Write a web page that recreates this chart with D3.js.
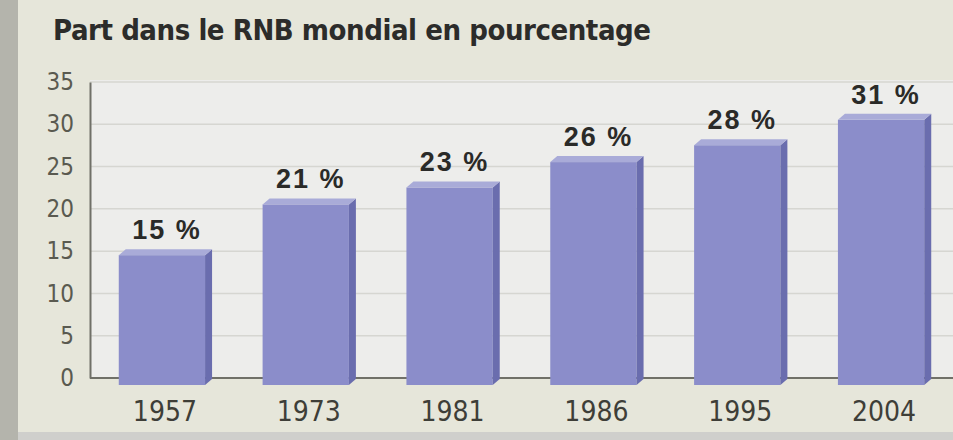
<!DOCTYPE html>
<html>
<head>
  <meta charset="utf-8" />
  <title>Part dans le RNB mondial</title>
  <style>
    body { margin: 0; background: #e4e4da; }
    svg { display: block; }
  </style>
</head>
<body>
  <svg id="chart" width="953" height="440"></svg>
  <script src="https://cdn.jsdelivr.net/npm/d3@7/dist/d3.min.js"></script>
  <script>
    var title = 'Part dans le RNB mondial en pourcentage'
    var years = ['1957', '1973', '1981', '1986', '1995', '2004']
    var shares = [15, 21, 23, 26, 28, 31]
    var yTicks = [0, 5, 10, 15, 20, 25, 30, 35]

    draw()

    function draw() {
      var narrow = '"Liberation Sans Narrow", "DejaVu Sans Condensed", "Liberation Sans", sans-serif'
      var W = 953, H = 440
      var mLeft = 90, mRight = 953, mTop = 80, mBottom = 378
      var depth = 7

      var svg = d3.select('#chart')

      // paper background, a bit of tint like the photo
      svg.append('rect').attr('width', W).attr('height', H).attr('fill', '#e6e6da')
      svg.append('rect').attr('x', 0).attr('y', 0).attr('width', 18).attr('height', H).attr('fill', '#b4b4ac')
      svg.append('rect').attr('x', 18).attr('y', 432).attr('width', W).attr('height', 8).attr('fill', '#cfcfcc')
      svg.append('rect').attr('x', mLeft).attr('y', mTop).attr('width', mRight - mLeft).attr('height', mBottom - mTop)
        .attr('fill', '#ededeb')

      var x = d3.scaleBand().domain(years).range([mLeft, mRight]).paddingInner(0.4).paddingOuter(0.2)
      var y = d3.scaleLinear().domain([0, 35]).range([mBottom, mTop + 2])

      // grid
      svg.append('g').selectAll('line').data(yTicks.slice(1)).enter().append('line')
        .attr('x1', mLeft).attr('x2', mRight)
        .attr('y1', function (d) { return y(d) }).attr('y2', function (d) { return y(d) })
        .attr('stroke', '#d6d6d1').attr('stroke-width', 1.5)

      // y axis
      var yAxis = svg.append('g').attr('transform', 'translate(' + mLeft + ',0)')
        .call(d3.axisLeft(y).tickValues(yTicks).tickSize(0).tickPadding(16))
      yAxis.select('.domain').attr('stroke', '#707068').attr('stroke-width', 2)
      yAxis.selectAll('text').attr('font-family', narrow).attr('font-size', 24)
        .attr('fill', '#5a5a50')

      // baseline
      svg.append('line').attr('x1', mLeft).attr('x2', mRight).attr('y1', mBottom).attr('y2', mBottom)
        .attr('stroke', '#707068').attr('stroke-width', 2)

      // bars with a small 3d look
      var bw = x.bandwidth()
      var bars = svg.append('g').selectAll('g').data(shares).enter().append('g')

      bars.append('rect')
        .attr('x', function (d, i) { return x(years[i]) })
        .attr('y', function (d) { return y(d) + 4 })
        .attr('width', bw)
        .attr('height', function (d) { return y(0) - y(d) + 3 })
        .attr('fill', '#8b8dca')

      bars.append('path')
        .attr('d', function (d, i) {
          var x0 = x(years[i]) + bw, yt = y(d) + 4, yb = y(0) + 7
          return 'M' + x0 + ',' + yt + 'L' + (x0 + depth) + ',' + (yt - depth + 1) +
            'L' + (x0 + depth) + ',' + (yb - depth + 1) + 'L' + x0 + ',' + yb + 'Z'
        })
        .attr('fill', '#6a6dae')

      bars.append('path')
        .attr('d', function (d, i) {
          var x0 = x(years[i]), yt = y(d) + 4
          return 'M' + x0 + ',' + yt + 'L' + (x0 + depth) + ',' + (yt - depth + 1) +
            'L' + (x0 + bw + depth) + ',' + (yt - depth + 1) + 'L' + (x0 + bw) + ',' + yt + 'Z'
        })
        .attr('fill', '#a9abd8')

      // value labels
      bars.append('text')
        .attr('x', function (d, i) { return x(years[i]) + bw / 2 + 5 })
        .attr('y', function (d) { return y(d) - 12 })
        .attr('text-anchor', 'middle')
        .attr('font-family', '"Liberation Sans", Arial, sans-serif')
        .attr('font-weight', 'bold')
        .attr('font-size', 27)
        .attr('letter-spacing', 2)
        .attr('fill', '#2a2a28')
        .text(function (d) { return d + ' %' })

      // x labels
      svg.append('g').selectAll('text').data(years).enter().append('text')
        .attr('x', function (d) { return x(d) + bw / 2 + 3 })
        .attr('y', 421)
        .attr('text-anchor', 'middle')
        .attr('font-family', narrow)
        .attr('font-size', 28)
        .attr('fill', '#3e3e38')
        .text(function (d) { return d })

      // title
      svg.append('text')
        .attr('x', 53).attr('y', 40)
        .attr('font-family', narrow)
        .attr('font-weight', 'bold')
        .attr('font-size', 29)
        .attr('textLength', 598)
        .attr('fill', '#2c2c2a')
        .text(title)
    }
  </script>
</body>
</html>
